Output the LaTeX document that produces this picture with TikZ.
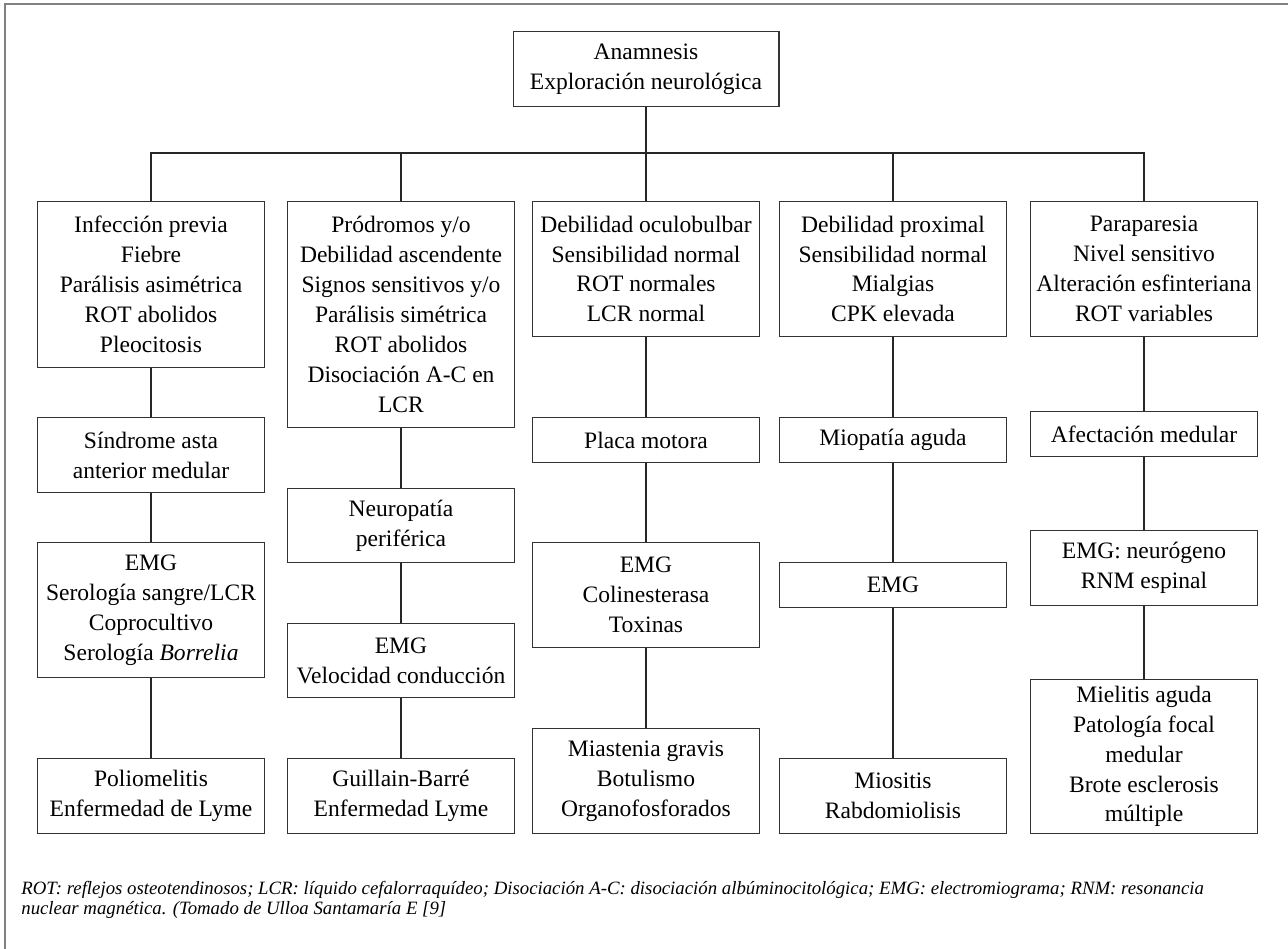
\documentclass[tikz,border=0pt]{standalone}
\usepackage{fontspec}
\setmainfont{Liberation Serif}
\usepackage{tikz}

\begin{document}
\begin{tikzpicture}[x=0.02cm, y=-0.02cm,
  box/.style={draw=black!80, line width=0.6pt, anchor=north, align=center,
    minimum width=4.54cm, inner sep=0pt, font=\fontsize{13.4}{17}\selectfont},
  link/.style={draw=black!85, line width=0.6pt}]
\useasboundingbox (0,0) rectangle (1288,949);
\draw[black!50, line width=1.2pt] (5,949) -- (5,4) -- (1288,4);

\node[box, minimum width=5.32cm, minimum height=1.5cm](anam) at (646,31)
  {Anamnesis\\Exploración neurológica};

% first row
\node[box, minimum height=3.32cm](p1) at (151,201)
  {Infección previa\\Fiebre\\Parálisis asimétrica\\ROT abolidos\\Pleocitosis};
\node[box, minimum height=4.52cm](p2) at (401,201)
  {Pródromos y/o\\Debilidad ascendente\\Signos sensitivos y/o\\Parálisis simétrica\\ROT abolidos\\Disociación A-C en\\LCR};
\node[box, minimum height=2.7cm](p3) at (646,201)
  {Debilidad oculobulbar\\Sensibilidad normal\\ROT normales\\LCR normal};
\node[box, minimum height=2.7cm](p4) at (893,201)
  {Debilidad proximal\\Sensibilidad normal\\Mialgias\\CPK elevada};
\node[box, minimum height=2.7cm](p5) at (1144,201)
  {Paraparesia\\Nivel sensitivo\\Alteración esfinteriana\\ROT variables};

% second row
\node[box, minimum height=1.5cm](s1) at (151,417) {Síndrome asta\\anterior medular};
\node[box, minimum height=1.48cm](s2) at (401,488) {Neuropatía\\periférica};
\node[box, minimum height=0.9cm](s3) at (646,417) {Placa motora};
\node[box, minimum height=0.9cm](s4) at (893,417) {Miopatía aguda};
\node[box, minimum height=0.9cm](s5) at (1144,411) {Afectación medular};

% tests
\node[box, minimum height=2.7cm](e1) at (151,542)
  {EMG\\Serología sangre/LCR\\Coprocultivo\\Serología \textit{Borrelia}};
\node[box, minimum height=1.48cm](e2) at (401,623) {EMG\\Velocidad conducción};
\node[box, minimum height=2.1cm](e3) at (646,542) {EMG\\Colinesterasa\\Toxinas};
\node[box, minimum height=0.9cm](e4) at (893,562) {EMG};
\node[box, minimum height=1.5cm](e5) at (1144,530) {EMG: neurógeno\\RNM espinal};

% diagnosis
\node[box, minimum height=1.5cm](d1) at (151,758) {Poliomelitis\\Enfermedad de Lyme};
\node[box, minimum height=1.5cm](d2) at (401,758) {Guillain-Barré\\Enfermedad Lyme};
\node[box, minimum height=2.1cm](d3) at (646,728) {Miastenia gravis\\Botulismo\\Organofosforados};
\node[box, minimum height=1.5cm](d4) at (893,758) {Miositis\\Rabdomiolisis};
\node[box, minimum height=3.08cm](d5) at (1144,679)
  {Mielitis aguda\\Patología focal\\medular\\Brote esclerosis\\múltiple};

\coordinate (bus) at (646,153);
\draw[link] (anam.south) -- (anam.south |- bus);
\draw[link] (p1.north) |- (p5.north |- bus) -- (p5.north);
\foreach \n in {p2,p3,p4}
{
	\draw[link] (\n.north) -- (\n.north |- bus);
}
\foreach \a/\b in {p1/s1,s1/e1,e1/d1,p2/s2,s2/e2,e2/d2,p3/s3,s3/e3,e3/d3,p4/s4,s4/e4,e4/d4,p5/s5,s5/e5,e5/d5}
{
	\draw[link] (\a) -- (\b);
}

\node[anchor=north west, align=left, inner sep=0pt, font=\fontsize{10.7}{11.6}\selectfont\itshape](nota) at (21,881)
  {ROT: reflejos osteotendinosos; LCR: líquido cefalorraquídeo; Disociación A-C: disociación albúminocitológica; EMG: electromiograma; RNM: resonancia\\
   nuclear magnética. (Tomado de Ulloa Santamaría E [9]};
\end{tikzpicture}
\end{document}
